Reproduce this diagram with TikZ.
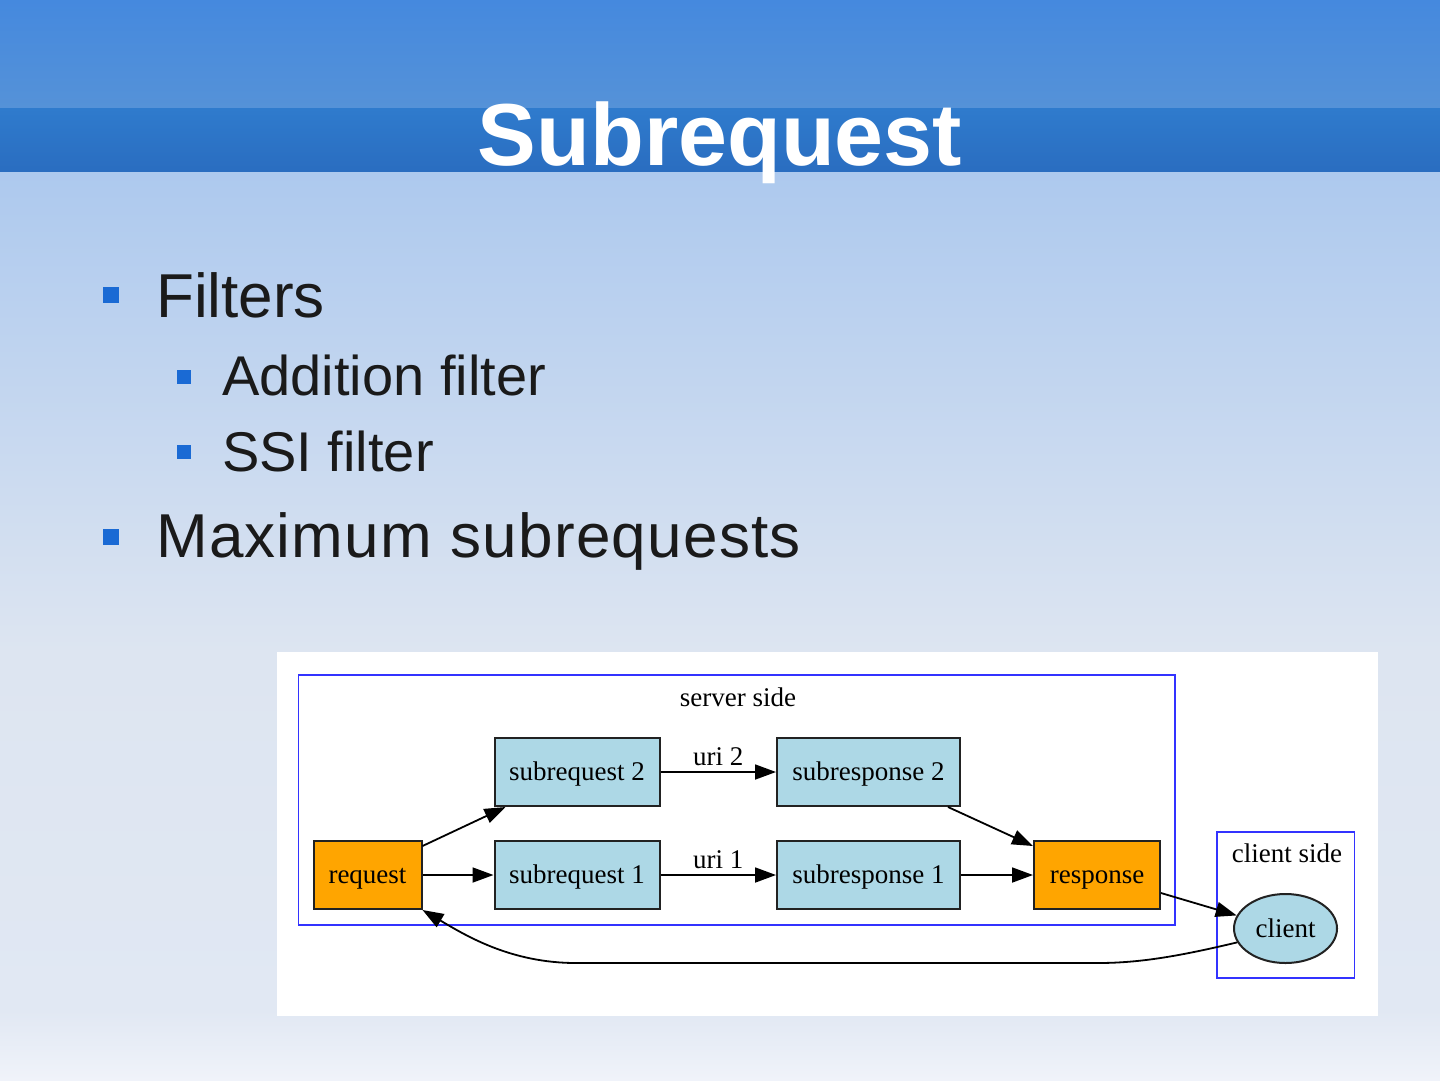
\documentclass[tikz,border=0pt]{standalone}
\usepackage{fontspec}
\setmainfont{Liberation Sans}
\newfontfamily\gvfont{Liberation Serif}
\usetikzlibrary{arrows.meta,shapes.geometric}
\definecolor{hdrA}{HTML}{4589DE}
\definecolor{hdrB}{HTML}{5592D8}
\definecolor{hdrC}{HTML}{2F7BCD}
\definecolor{hdrD}{HTML}{2A6DC0}
\definecolor{bgA}{HTML}{ADC9EE}
\definecolor{bgB}{HTML}{DDE5F1}
\definecolor{bgC}{HTML}{E1E8F3}
\definecolor{bgD}{HTML}{F0F3FA}
\definecolor{bulletblue}{HTML}{1A6AD4}
\definecolor{txt}{HTML}{1A1A1A}
\definecolor{lblue}{HTML}{ADD8E6}
\definecolor{gvorange}{HTML}{FFA500}
\definecolor{gvborder}{HTML}{222222}
\definecolor{clblue}{HTML}{3333FF}
\tikzset{
  bul/.style={fill=bulletblue, draw=none, inner sep=0pt},
  itemtxt/.style={anchor=base west, text=txt, inner sep=0pt},
  gvbox/.style={draw=gvborder, line width=2pt, fill=lblue, inner sep=0pt, minimum height=68pt, text height=17pt, text depth=0pt, font=\gvfont\fontsize{27}{29}\selectfont},
  gvorg/.style={gvbox, fill=gvorange},
  gvedge/.style={draw=black, line width=1.8pt, -{Triangle[length=21pt,width=15pt]}},
  cluster/.style={draw=clblue, line width=1.8pt},
  gvlabel/.style={font=\gvfont\fontsize{27}{29}\selectfont, inner sep=0pt, anchor=base}
}
\begin{document}
\begin{tikzpicture}[x=1pt,y=-1pt]
\useasboundingbox (0,0) rectangle (1440,1080);
% background
\shade[top color=hdrA, bottom color=hdrB] (0,0) rectangle (1440,108);
\shade[top color=hdrC, bottom color=hdrD] (0,108) rectangle (1440,172);
\shade[top color=bgA, bottom color=bgB] (0,172) rectangle (1440,650);
\shade[top color=bgB, bottom color=bgC] (0,650) rectangle (1440,1010);
\shade[top color=bgC, bottom color=bgD] (0,1010) rectangle (1440,1080);
% title
\node[anchor=base, text=white, inner sep=0pt, font=\bfseries\fontsize{88}{94}\selectfont] (title) at (720,165) {Subrequest};
% bullets
\node[bul, minimum size=16.5pt] (b1) at (111,295) {};
\node[itemtxt, font=\fontsize{62}{70}\selectfont] (t1) at (156,317) {Filters};
\node[bul, minimum size=14pt] (b2) at (183.5,377) {};
\node[itemtxt, font=\fontsize{56}{64}\selectfont] (t2) at (222,395) {Addition filter};
\node[bul, minimum size=14pt] (b3) at (183.5,452) {};
\node[itemtxt, font=\fontsize{56}{64}\selectfont] (t3) at (222,471) {SSI filter};
\node[bul, minimum size=16.5pt] (b4) at (111,537) {};
\node[itemtxt, font=\fontsize{62}{70}\selectfont\addfontfeatures{LetterSpace=2}] (t4) at (156,557) {Maximum subrequests};
% diagram panel
\fill[white] (277,652) rectangle (1378,1016);
\draw[cluster] (298.5,675) rectangle (1175,925);
\draw[cluster] (1217,832) rectangle (1354.5,978);
\node[gvlabel] (srv) at (738,706) {server side};
\node[gvlabel] (cli) at (1287,862) {client side};
% nodes
\node[gvorg, minimum width=108pt] (request) at (367.5,875) {request};
\node[gvbox, minimum width=165pt] (sq2) at (577,772) {subrequest 2};
\node[gvbox, minimum width=165pt] (sq1) at (577,875) {subrequest 1};
\node[gvbox, minimum width=183pt] (sr2) at (868.5,772) {subresponse 2};
\node[gvbox, minimum width=183pt] (sr1) at (868.5,875) {subresponse 1};
\node[gvorg, minimum width=126pt] (response) at (1097,875) {response};
\node[ellipse, draw=gvborder, line width=2pt, fill=lblue, minimum width=103pt, minimum height=69pt, inner sep=0pt, text height=17pt, text depth=0pt, font=\gvfont\fontsize{27}{29}\selectfont] (client) at (1285.5,928.5) {client};
% edges
\draw[gvedge] ([yshift=-6pt]request.north east) -- ([xshift=12pt]sq2.south west);
\draw[gvedge] (request.east) -- (sq1.west);
\draw[gvedge] (sq2.east) -- node[gvlabel, above=7pt, anchor=base] (u2) {uri 2} (sr2.west);
\draw[gvedge] (sq1.east) -- node[gvlabel, above=7pt, anchor=base] (u1) {uri 1} (sr1.west);
\draw[gvedge] ([xshift=-13pt]sr2.south east) -- ([yshift=-6pt]response.north west);
\draw[gvedge] (sr1.east) -- (response.west);
\draw[gvedge] ([yshift=-18pt]response.east) -- (client.165);
\coordinate (c1) at (1098,963);
\coordinate (c2) at (576,963);
\draw[gvedge] (client.196) .. controls (1180,956) and (1140,963) .. (c1) -- (c2) .. controls (510,963) and (465,935) .. (request.south east);
\end{tikzpicture}
\end{document}
